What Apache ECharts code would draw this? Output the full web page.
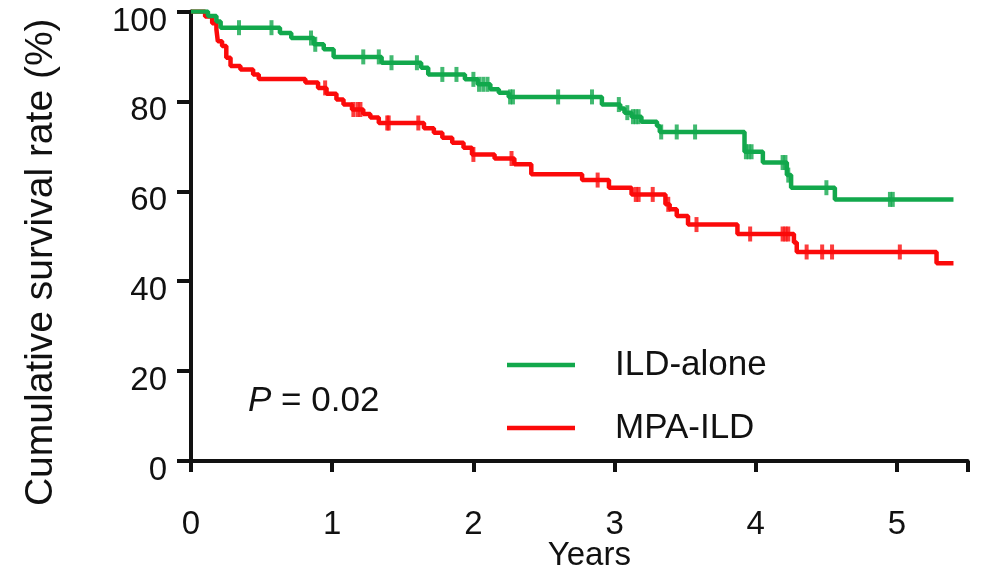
<!DOCTYPE html>
<html>
<head>
<meta charset="utf-8">
<script src="https://cdn.jsdelivr.net/npm/echarts@6/dist/echarts.min.js"></script>
<style>
  html, body { margin: 0; padding: 0; background: #fff; }
  #chart { width: 984px; height: 574px; }
</style>
</head>
<body>
<div id="chart"></div>
<script>
// Kaplan-Meier steps: [years, survival % after the event]
const ildAloneSteps = [
  [0, 100], [0.12, 99.0], [0.18, 97.8], [0.21, 96.4], [0.63, 95.2], [0.71, 94.1],
  [0.87, 92.7], [0.94, 91.6], [1.01, 89.9], [1.35, 88.6], [1.63, 87.5], [1.68, 86.0],
  [1.94, 84.9], [2.03, 83.8], [2.12, 82.7], [2.18, 81.9], [2.25, 81.0], [2.91, 79.3],
  [3.04, 78.4], [3.07, 77.5], [3.12, 76.6], [3.19, 75.5], [3.30, 74.5], [3.32, 73.2],
  [3.92, 68.8], [4.05, 66.4], [4.22, 63.6], [4.25, 60.8], [4.56, 58.2], [5.40, 58.2]
];
const ildAloneCensored = [
  [0.34, 96.4], [0.57, 96.4], [0.85, 94.1], [0.88, 92.7], [1.22, 89.9], [1.33, 89.9],
  [1.42, 88.6], [1.60, 88.6], [1.78, 86.0], [1.88, 86.0], [2.00, 84.9], [2.04, 83.8],
  [2.07, 83.8], [2.10, 83.8], [2.26, 81.0], [2.28, 81.0], [2.60, 81.0], [2.84, 81.0],
  [3.03, 79.3], [3.09, 77.5], [3.13, 76.6], [3.15, 76.6], [3.17, 76.6], [3.33, 73.2],
  [3.44, 73.2], [3.57, 73.2], [3.93, 68.8], [3.95, 68.8], [3.97, 68.8], [4.19, 66.4],
  [4.21, 66.4], [4.23, 63.6], [4.50, 60.8], [4.95, 58.2], [4.97, 58.2]
];
const mpaIldSteps = [
  [0, 100], [0.10, 98.9], [0.15, 97.4], [0.18, 96.0], [0.19, 93.4], [0.22, 92.3],
  [0.25, 89.7], [0.28, 87.9], [0.35, 87.1], [0.44, 86.0], [0.48, 85.0], [0.81, 84.2],
  [0.90, 83.0], [0.96, 81.7], [1.03, 80.4], [1.08, 79.3], [1.14, 78.2], [1.22, 77.2],
  [1.27, 76.4], [1.33, 75.2], [1.65, 74.0], [1.72, 73.0], [1.78, 71.9], [1.85, 70.8],
  [1.93, 69.7], [1.99, 68.2], [2.15, 67.3], [2.29, 66.0], [2.41, 63.8], [2.77, 62.5],
  [2.96, 60.8], [3.12, 59.3], [3.36, 57.1], [3.39, 56.0], [3.44, 54.5], [3.52, 52.6],
  [3.87, 50.5], [4.27, 48.6], [4.29, 46.5], [5.28, 44.0], [5.40, 44.0]
];
const mpaIldCensored = [
  [0.95, 83.0], [1.15, 78.2], [1.18, 78.2], [1.20, 78.2], [1.39, 75.2], [1.40, 75.2],
  [1.61, 75.2], [2.00, 68.2], [2.27, 67.3], [2.88, 62.5], [3.15, 59.3], [3.17, 59.3],
  [3.27, 59.3], [3.38, 57.1], [3.58, 52.6], [3.96, 50.5], [4.19, 50.5], [4.21, 50.5],
  [4.23, 50.5], [4.36, 46.5], [4.47, 46.5], [4.54, 46.5], [5.02, 46.5]
];
const yearTicks = [0, 1, 2, 3, 4, 5];
const rateTicks = [0, 20, 40, 60, 80, 100];

const GREEN = '#12a84c';
const RED = '#fb0a0a';
const FONT = '"Liberation Sans", Arial, sans-serif';

const chart = echarts.init(document.getElementById('chart'), null, { renderer: 'canvas' });

const option = {
  backgroundColor: '#fff',
  animation: false,
  textStyle: { fontFamily: FONT, color: '#111' },
  grid: { left: 191, right: 16.4, top: 11.5, bottom: 113, outerBoundsMode: 'none' },
  xAxis: {
    type: 'value',
    min: 0,
    max: 5.5,
    interval: 1,
    offset: 18,
    name: 'Years',
    nameLocation: 'middle',
    nameGap: 60,
    nameMoveOverlap: false,
    nameTextStyle: { fontSize: 33, fontFamily: FONT, color: '#111', padding: [0, 0, 0, 20] },
    axisLine: { show: true, lineStyle: { color: '#111', width: 4 } },
    axisTick: { show: true, length: 11, lineStyle: { color: '#111', width: 4 } },
    axisLabel: {
      fontSize: 33, fontFamily: FONT, color: '#111', margin: 29,
      formatter: v => (yearTicks.indexOf(v) >= 0 ? String(v) : '')
    },
    splitLine: { show: false }
  },
  yAxis: {
    type: 'value',
    min: 0,
    max: 100,
    interval: 20,
    name: 'Cumulative survival rate (%)',
    nameLocation: 'middle',
    nameGap: 130,
    nameMoveOverlap: false,
    nameTextStyle: { fontSize: 39, fontFamily: FONT, color: '#111', padding: [0, 52, 0, 0] },
    axisLine: { show: true, lineStyle: { color: '#111', width: 4 } },
    axisTick: { show: true, length: 14, lineStyle: { color: '#111', width: 4 } },
    axisLabel: {
      fontSize: 33, fontFamily: FONT, color: '#111', margin: 24,
      verticalAlign: 'top',
      lineHeight: 20,
      formatter: v => (rateTicks.indexOf(v) >= 0 ? String(v) : '')
    },
    splitLine: { show: false }
  },
  legend: {
    orient: 'vertical',
    left: 502,
    top: 340,
    data: ['ILD-alone', 'MPA-ILD'],
    icon: 'rect',
    itemWidth: 68,
    itemHeight: 4.5,
    itemGap: 23,
    textStyle: { fontSize: 35, fontFamily: FONT, color: '#111', lineHeight: 40, padding: [0, 0, 0, 35] }
  },
  graphic: [{
    type: 'text',
    left: 248,
    top: 384,
    style: {
      text: '{i|P} = 0.02',
      font: '35px ' + FONT,
      fill: '#111',
      rich: { i: { fontStyle: 'italic', fontSize: 35, fontFamily: FONT } }
    }
  }],
  series: [
    {
      name: 'ILD-alone',
      type: 'line',
      step: 'end',
      data: ildAloneSteps,
      showSymbol: false,
      symbol: 'none',
      color: GREEN,
      lineStyle: { color: GREEN, width: 4.5 },
      z: 3
    },
    {
      name: 'MPA-ILD',
      type: 'line',
      step: 'end',
      data: mpaIldSteps,
      showSymbol: false,
      symbol: 'none',
      color: RED,
      lineStyle: { color: RED, width: 4.5 },
      z: 2
    },
    {
      name: 'ILD-alone censored',
      type: 'scatter',
      data: ildAloneCensored,
      symbol: 'rect',
      symbolSize: [4, 15],
      itemStyle: { color: GREEN },
      z: 3
    },
    {
      name: 'MPA-ILD censored',
      type: 'scatter',
      data: mpaIldCensored,
      symbol: 'rect',
      symbolSize: [4, 15],
      itemStyle: { color: RED },
      z: 2
    }
  ]
};

chart.setOption(option);
</script>
</body>
</html>
